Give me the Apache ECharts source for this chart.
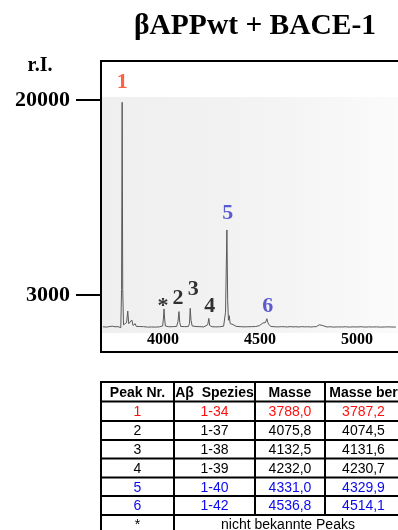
<!DOCTYPE html>
<html>
<head>
<meta charset="utf-8">
<script src="https://cdn.jsdelivr.net/npm/echarts@6/dist/echarts.min.js"></script>
<style>
html,body{margin:0;padding:0;background:#fff;}
#chart{width:398px;height:530px;}
</style>
</head>
<body>
<div id="chart"></div>
<script>
// ---- data ----
const titleText = 'βAPPwt + BACE-1';
const yAxisName = 'r.I.';
const xTickValues = [4000, 4500, 5000];
const yTickValues = [3000, 20000];

const spectrumMass = [
  3690,3700,3708,3715,3722,3730,3738,3745,3752,3760,3768,3775,3782,3786,3789,3792,3796,
  3800,3806,3812,3818,3823,3828,3833,3839,3845,3851,3856,3862,3870,3880,3890,3900,3910,
  3920,3930,3940,3950,3960,3970,3980,3990,3998,4002,4005,4008,4012,4016,4022,4030,4040,
  4050,4060,4070,4077,4082,4086,4091,4100,4110,4120,4130,4136,4140,4144,4150,4160,4170,
  4180,4190,4200,4210,4220,4230,4236,4240,4244,4252,4262,4272,4282,4292,4302,4312,4322,
  4329,4333,4337,4341,4346,4351,4356,4361,4369,4377,4387,4397,4407,4417,4427,4437,4447,
  4457,4467,4477,4487,4497,4507,4514,4522,4528,4535,4540,4545,4550,4556,4563,4573,4583,
  4595,4610,4625,4640,4655,4670,4685,4700,4715,4730,4745,4760,4775,4790,4805,4815,4820,
  4824,4830,4845,4860,4880,4900,4920,4940,4960,4980,5000,5020,5040,5060,5080,5100,5120,
  5140,5160,5180,5200,5215
];
const spectrumIntensity = [
  230,260,200,300,240,210,280,250,230,260,240,230,150,3500,19800,3500,400,
  300,450,600,1600,500,450,500,820,350,380,500,260,230,250,200,240,220,
  200,250,210,230,200,240,220,250,300,1000,1780,900,300,450,250,230,210,
  240,220,260,700,1550,600,260,230,240,210,250,500,1840,800,300,230,250,
  220,240,230,220,240,400,960,350,250,230,240,220,250,230,240,280,1500,
  8670,2500,800,1200,500,650,380,420,300,260,280,240,260,220,250,230,
  260,240,220,250,240,330,280,550,380,600,930,600,420,300,260,240,
  230,250,220,240,230,210,240,220,230,210,240,220,230,210,230,240,400,
  560,350,230,220,210,230,200,220,210,230,200,220,210,230,200,220,210,220,
  200,210,220,210,200
];

const peakLabels = ['1', '*', '2', '3', '4', '5', '6'];
const peakMass = [3789, 4005, 4082, 4140, 4240, 4333, 4545];
const peakIntensity = [19800, 1780, 1550, 1840, 960, 8670, 930];

const tableHeader = ['Peak Nr.', 'Aβ  Spezies', 'Masse', 'Masse ber'];
const tablePeak = ['1', '2', '3', '4', '5', '6'];
const tableSpecies = ['1-34', '1-37', '1-38', '1-39', '1-40', '1-42'];
const tableMass = ['3788,0', '4075,8', '4132,5', '4232,0', '4331,0', '4536,8'];
const tableMassCalc = ['3787,2', '4074,5', '4131,6', '4230,7', '4329,9', '4514,1'];
const tableNoteKey = '*';
const tableNote = 'nicht bekannte Peaks';

// ---- styles ----
const serif = '"Liberation Serif", "Times New Roman", serif';
const sans = '"Liberation Sans", Arial, sans-serif';
const labelColors = {'1': '#ff3a12', '5': '#3434c8', '6': '#3434c8'};
const labelOffsets = {'1': [0, -20], '*': [-1, -3], '2': [-1, -13], '3': [3, -19], '4': [0, -12], '5': [0, -17], '6': [-1, -12]};
const rowColors = ['#ff1010', '#000', '#000', '#000', '#0a0aee', '#0a0aee'];

const spectrum = spectrumMass.map((m, i) => [m, spectrumIntensity[i]]);
const labelData = peakLabels.map((t, i) => ({
  value: [peakMass[i], peakIntensity[i]],
  label: {
    show: true, formatter: t, position: 'inside',
    offset: labelOffsets[t], color: labelColors[t] || '#000',
    fontFamily: serif, fontWeight: 'bold', fontSize: 22
  }
}));

// ---- table graphics ----
const colX = [101, 174, 255, 325, 402];
const rowY = [382, 401.5, 421, 440, 458.5, 477.5, 496, 515, 534];
const tableEls = [];
const lineStyle = {stroke: '#000', lineWidth: 2};
rowY.forEach(y => tableEls.push({type: 'line', shape: {x1: colX[0] - 1, y1: y, x2: colX[4], y2: y}, style: lineStyle}));
colX.forEach((x, ci) => {
  const yEnd = (ci === 2 || ci === 3) ? rowY[7] : rowY[8];
  tableEls.push({type: 'line', shape: {x1: x, y1: rowY[0], x2: x, y2: yEnd}, style: lineStyle});
});
function cellText(text, ci, ri, color, bold, spanEnd) {
  const x0 = colX[ci], x1 = colX[spanEnd !== undefined ? spanEnd : ci + 1];
  tableEls.push({
    type: 'text',
    x: (x0 + x1) / 2, y: (rowY[ri] + rowY[ri + 1]) / 2 + 1,
    style: {
      text: text, fill: color, align: 'center', verticalAlign: 'middle',
      font: (bold ? 'bold ' : '') + '14px ' + sans
    }
  });
}
tableHeader.forEach((h, ci) => cellText(h, ci, 0, '#000', true));
tablePeak.forEach((p, i) => {
  cellText(p, 0, i + 1, rowColors[i], false);
  cellText(tableSpecies[i], 1, i + 1, rowColors[i], false);
  cellText(tableMass[i], 2, i + 1, rowColors[i], false);
  cellText(tableMassCalc[i], 3, i + 1, rowColors[i], false);
});
cellText(tableNoteKey, 0, 7, '#000', false);
cellText(tableNote, 1, 7, '#000', false, 4);

const plain = v => String(v);

const chart = echarts.init(document.getElementById('chart'), null, {renderer: 'canvas'});
chart.setOption({
  animation: false,
  backgroundColor: '#fff',
  title: {
    text: titleText, left: 129, top: 6,
    textStyle: {fontFamily: serif, fontWeight: 'bold', fontSize: 29.5, color: '#000'}
  },
  grid: {left: 101, right: 0, top: 100, bottom: 200.6, containLabel: false},
  xAxis: {
    type: 'value', min: 3680, max: 5211,
    axisLine: {show: false}, axisTick: {show: false}, splitLine: {show: false},
    axisLabel: {
      customValues: xTickValues, margin: 2, color: '#000', formatter: plain,
      fontFamily: serif, fontWeight: 'bold', fontSize: 16
    }
  },
  yAxis: {
    type: 'value', min: 0, max: 20000,
    axisLine: {show: false}, splitLine: {show: false},
    axisTick: {show: true, customValues: yTickValues, length: 25, lineStyle: {color: '#000', width: 2}},
    axisLabel: {
      customValues: yTickValues, margin: 31, color: '#000', formatter: plain,
      fontFamily: serif, fontWeight: 'bold', fontSize: 22
    }
  },
  graphic: [
    {
      type: 'rect', z: -10, silent: true,
      shape: {x: 102, y: 97, width: 300, height: 236},
      style: {fill: new echarts.graphic.LinearGradient(0, 0, 1, 0, [
        {offset: 0, color: '#efefef'}, {offset: 0.55, color: '#f3f3f3'}, {offset: 1, color: '#fbfbfb'}
      ])}
    },
    {
      type: 'rect', z: 10, silent: true,
      shape: {x: 101, y: 61, width: 320, height: 291},
      style: {fill: 'none', stroke: '#000', lineWidth: 2}
    },
    {
      type: 'text', x: 40, y: 66, z: 10,
      style: {text: yAxisName, align: 'center', verticalAlign: 'middle', fill: '#000',
        font: 'bold 20px ' + serif}
    },
    {type: 'group', children: tableEls}
  ],
  series: [
    {
      type: 'line', data: spectrum, showSymbol: false, symbol: 'none',
      lineStyle: {color: '#5a5a5a', width: 1}, z: 3
    },
    {
      type: 'scatter', data: labelData, symbolSize: 0, clip: false, z: 4,
      silent: true
    }
  ]
});
</script>
</body>
</html>
